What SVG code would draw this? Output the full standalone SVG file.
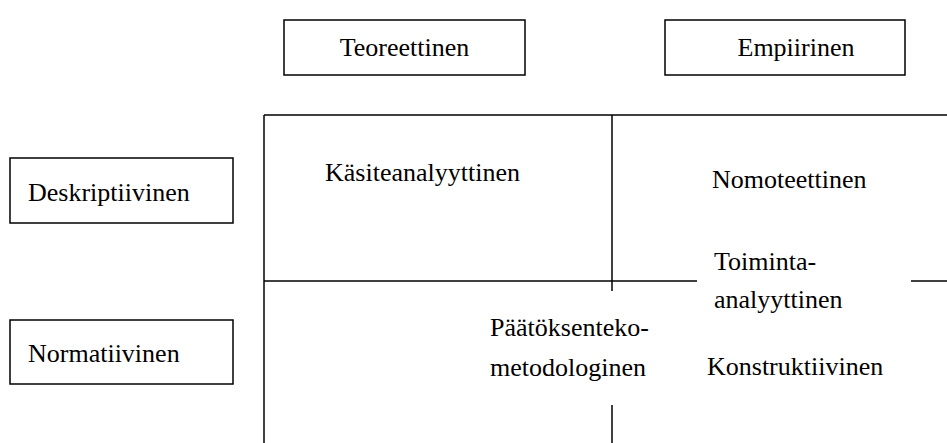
<svg xmlns="http://www.w3.org/2000/svg" width="947" height="443" viewBox="0 0 947 443">
  <style>
    .box { fill: #ffffff; stroke: #000000; stroke-width: 1.5; }
    .ln { stroke: #000000; stroke-width: 1.5; fill: none; }
    .t { font-family: 'Liberation Serif', 'Times New Roman', serif; font-size: 26px; fill: #000000; }
    .c { text-anchor: middle; }
  </style>
  <rect width="947" height="443" fill="#ffffff"/>

  <!-- grid of research approaches -->
  <g id="connectors">
    <line class="ln" x1="264" y1="115" x2="947" y2="115"/>
    <line class="ln" x1="264" y1="115" x2="264" y2="443"/>
    <line class="ln" x1="612" y1="115" x2="612" y2="291"/>
    <line class="ln" x1="612" y1="405" x2="612" y2="443"/>
    <line class="ln" x1="264" y1="281" x2="697" y2="281"/>
    <line class="ln" x1="911" y1="281" x2="947" y2="281"/>
  </g>

  <g id="teoreettinen">
    <rect class="box" x="284" y="20" width="241" height="55"/>
    <text class="t c" x="404.5" y="56">Teoreettinen</text>
  </g>
  <g id="empiirinen">
    <rect class="box" x="665" y="20" width="240" height="55"/>
    <text class="t c" x="796" y="56">Empiirinen</text>
  </g>
  <g id="deskriptiivinen">
    <rect class="box" x="10" y="158" width="223" height="65"/>
    <text class="t" x="28" y="201">Deskriptiivinen</text>
  </g>
  <g id="normatiivinen">
    <rect class="box" x="10" y="320" width="223" height="64"/>
    <text class="t" x="28" y="362">Normatiivinen</text>
  </g>

  <g id="kasiteanalyyttinen">
    <text class="t" x="325" y="181">Käsiteanalyyttinen</text>
  </g>
  <g id="nomoteettinen">
    <text class="t" x="712" y="188">Nomoteettinen</text>
  </g>
  <g id="toiminta-analyyttinen">
    <text class="t" x="714" y="270">Toiminta-</text>
    <text class="t" x="714" y="308">analyyttinen</text>
  </g>
  <g id="paatoksenteko-metodologinen">
    <text class="t" x="490" y="336">Päätöksenteko-</text>
    <text class="t" x="490" y="376">metodologinen</text>
  </g>
  <g id="konstruktiivinen">
    <text class="t" x="707" y="375">Konstruktiivinen</text>
  </g>
</svg>
